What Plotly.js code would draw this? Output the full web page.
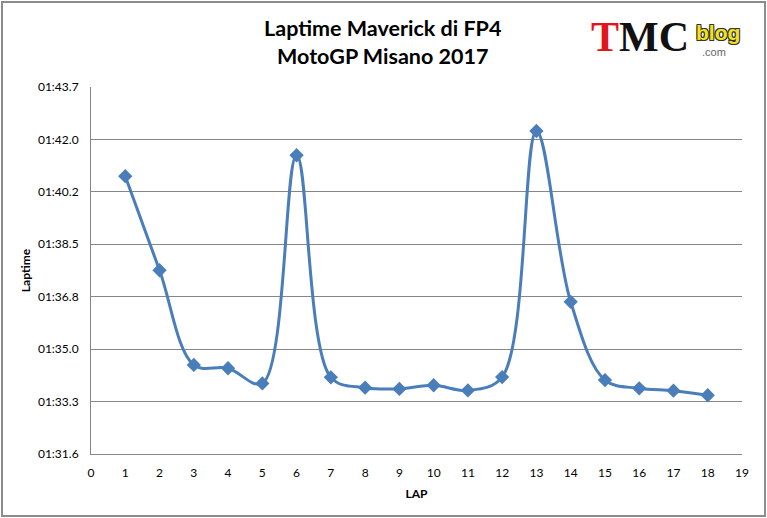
<!DOCTYPE html>
<html>
<head>
<meta charset="utf-8">
<script src="https://cdn.plot.ly/plotly-3.0.1.min.js"></script>
<style>
html,body{margin:0;padding:0;background:#fff;}
#chart{width:767px;height:518px;}
#frame{position:absolute;left:1px;top:1px;width:761px;height:512px;border:2px solid #8c8c8c;pointer-events:none;}
</style>
</head>
<body>
<div id="chart"></div>
<div id="frame"></div>
<script>
// Lap numbers
const laps = [1,2,3,4,5,6,7,8,9,10,11,12,13,14,15,16,17,18];
// Lap times in seconds
const laptimes = [100.74,97.64,94.52,94.41,93.91,101.43,94.11,93.77,93.73,93.85,93.68,94.12,102.23,96.60,94.02,93.75,93.67,93.52];
// Y axis tick values (seconds) and their labels
const yTickVals = [91.584,93.312,95.040,96.768,98.496,100.224,101.952,103.680];
const yTickText = ["01:31.6","01:33.3","01:35.0","01:36.8","01:38.5","01:40.2","01:42.0","01:43.7"];
const xTickVals = [0,1,2,3,4,5,6,7,8,9,10,11,12,13,14,15,16,17,18,19];

const font = "Lato, 'Open Sans', sans-serif";
const blue = "#4a7ebb";
const grid = "#868686";

const trace = {
  x: laps, y: laptimes, type: "scatter", mode: "lines+markers",
  line: {color: blue, width: 3, shape: "spline", smoothing: 1},
  marker: {symbol: "diamond", size: 11, color: blue},
  hoverinfo: "skip"
};

const layout = {
  width: 767, height: 518,
  margin: {l: 91, r: 25, t: 87, b: 64},
  paper_bgcolor: "#fff", plot_bgcolor: "#fff",
  showlegend: false,
  font: {family: font, size: 12, color: "#000"},
  title: {
    text: "<b>Laptime Maverick di FP4<br>MotoGP Misano 2017</b>",
    font: {family: font, size: 21.5, color: "#000"},
    x: 0.499, xanchor: "center", y: 0.931, yanchor: "middle"
  },
  xaxis: {
    range: [0, 19], tickvals: xTickVals, ticks: "", showgrid: false,
    showline: true, linecolor: grid, linewidth: 1, zeroline: false,
    tickfont: {family: font, size: 12, color: "#000"}, ticklabelstandoff: 8,
    title: {text: "<b>LAP</b>", font: {family: font, size: 12, color: "#000"}, standoff: 10},
    automargin: false, fixedrange: true
  },
  yaxis: {
    range: [91.584, 103.68], tickvals: yTickVals, ticktext: yTickText, ticks: "",
    showgrid: true, gridcolor: grid, gridwidth: 1,
    showline: true, linecolor: grid, linewidth: 1, zeroline: false,
    tickfont: {family: font, size: 12, color: "#000"}, ticklabelstandoff: 9,
    title: {text: "<b>Laptime</b>", font: {family: font, size: 12, color: "#000"}, standoff: 4},
    automargin: false, fixedrange: true
  },
  annotations: [
    {xref: "paper", yref: "paper", x: 0.922, y: 1.136, xanchor: "right", yanchor: "middle", showarrow: false,
     text: "<b><span style='color:#e0161b'>T</span>MC</b>", font: {family: "Liberation Serif, serif", size: 42, color: "#111"}},
    {xref: "paper", yref: "paper", x: 0.926, y: 1.148, xanchor: "left", yanchor: "middle", showarrow: false,
     text: "<b>blog</b>", font: {family: "Liberation Sans, sans-serif", size: 21, color: "#f2e21c",
       shadow: "-1px -1px 0 #333, 1px -1px 0 #333, -1px 1px 0 #333, 1px 1px 0 #333"}},
    {xref: "paper", yref: "paper", x: 0.936, y: 1.095, xanchor: "left", yanchor: "middle", showarrow: false,
     text: ".com", font: {family: "Liberation Sans, sans-serif", size: 11, color: "#666"}}
  ]
};

Plotly.newPlot("chart", [trace], layout, {displayModeBar: false, staticPlot: true});
</script>
</body>
</html>
